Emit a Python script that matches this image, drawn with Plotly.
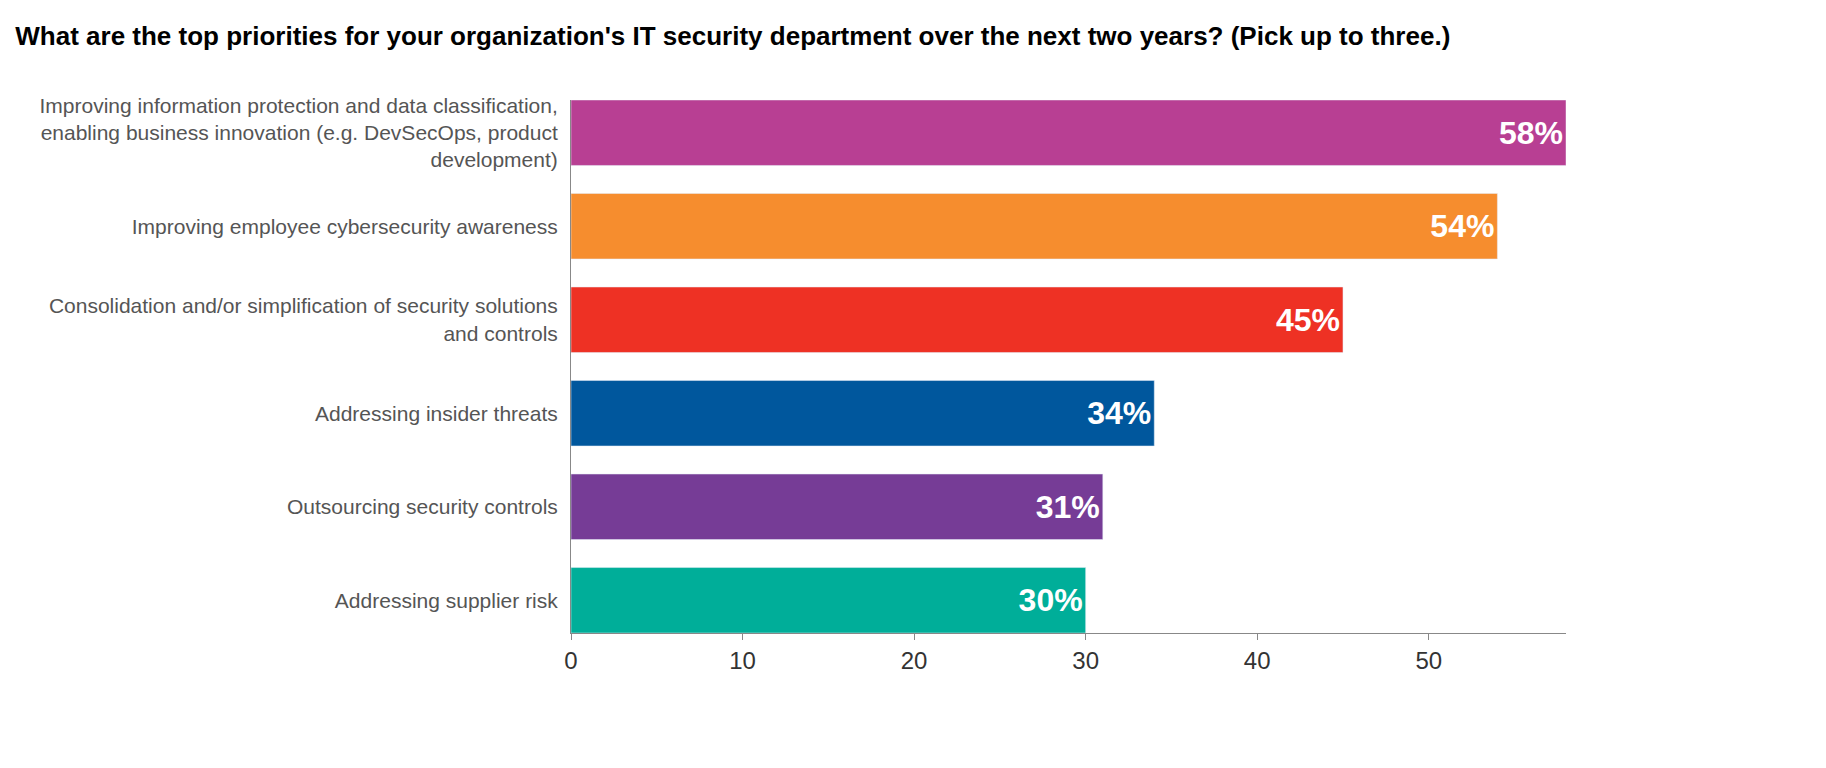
import plotly.graph_objects as go

categories = [
    "Improving information protection and data classification,<br>enabling business innovation (e.g. DevSecOps, product<br>development)",
    "Improving employee cybersecurity awareness",
    "Consolidation and/or simplification of security solutions<br>and controls",
    "Addressing insider threats",
    "Outsourcing security controls",
    "Addressing supplier risk",
]
values = [58, 54, 45, 34, 31, 30]
colors = ["#b83f93", "#f68d2e", "#ee3124", "#00579d", "#763c96", "#00ae99"]
labels = [f"{v}%" for v in values]

fig = go.Figure(go.Bar(
    y=categories, x=values, orientation="h", marker_color=colors, width=0.7,
    text=labels, textposition="inside", insidetextanchor="end",
    textfont=dict(family="Liberation Sans Narrow, Arial Narrow, sans-serif", size=32, color="white"),
    texttemplate="<b>%{text}</b>", cliponaxis=False,
))
fig.update_layout(
    width=1826, height=768, plot_bgcolor="white", paper_bgcolor="white",
    margin=dict(l=563, r=268, t=92, b=143),
    title=dict(text="<b>What are the top priorities for your organization's IT security department over the next two years? (Pick up to three.)</b>",
               x=0.004, xanchor="left", y=0.975, yanchor="top",
               font=dict(family="Liberation Sans Narrow, Arial Narrow, sans-serif", size=26, color="black")),
    showlegend=False,
)
fig.update_yaxes(autorange=False, range=[5.35, -0.35], showline=True, linecolor="#888", linewidth=1,
                 ticks="", ticklabelstandoff=8,
                 tickfont=dict(family="Liberation Sans, Arial, sans-serif", size=21, color="#555"))
fig.update_xaxes(range=[0, 58], showgrid=False, showline=True, linecolor="#888", ticks="outside",
                 tickcolor="#888", ticklen=6, dtick=10, zeroline=False,
                 tickfont=dict(family="Liberation Sans, Arial, sans-serif", size=24, color="#333"))
fig.write_html("out.html")
